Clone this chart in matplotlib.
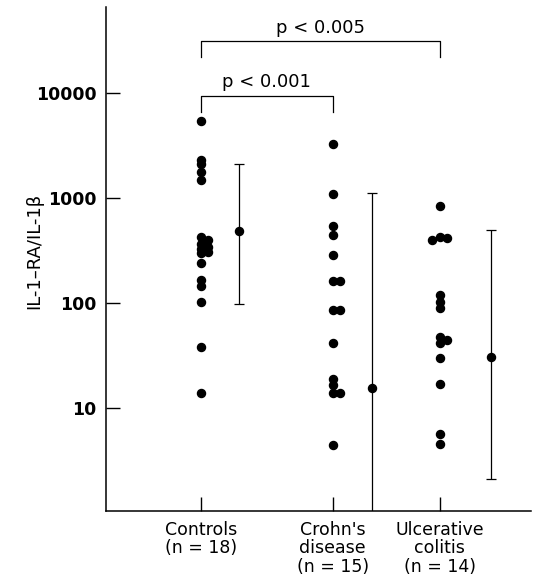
import numpy as np
import matplotlib
matplotlib.use("Agg")
import matplotlib.pyplot as plt
import matplotlib.transforms as mtransforms

# значения
controls = [5400, 2300, 2100, 1780, 1480, 430, 400, 370, 345, 330, 310, 300,
            240, 166, 146, 103, 38, 14]
crohns = [3300, 1090, 540, 450, 290, 162, 162, 86, 86, 42, 18.8, 16.6,
          13.8, 13.8, 4.4]
colitis = [840, 430, 415, 400, 119, 103, 89, 48, 45, 42, 30, 17, 5.6, 4.5]

means = [485, 15.6, 31]
upper = [2140, 1120, 496]
lower = [98, 0.3, 2.1]

labels = ["Controls\n(n = 18)", "Crohn's\ndisease\n(n = 15)",
          "Ulcerative\ncolitis\n(n = 14)"]
yticks = [10, 100, 1000, 10000]

group_x = [1.0, 2.0, 2.81]
mean_dx = [0.29, 0.30, 0.39]

plt.rcParams['font.family'] = ['DejaVu Sans']

fig = plt.figure(figsize=(5.33, 5.76), dpi=100)
ax = fig.add_axes([106 / 533, 1 - 511 / 576, 425 / 533, 504 / 576])
ax.set_yscale('log')
ax.set_xlim(0.283, 3.502)
ax.set_ylim(1.045, 66400)

px_x = 132.0   # пикселей на единицу x
px_y = 105.0   # пикселей на декаду


def swarm(values):
    # раздвигаем только почти совпадающие точки
    placed = []
    offs = []
    for v in values:
        ly = np.log10(v)
        for k in [0, 1, -1, 2, -2]:
            dx = k * 0.055
            ok = True
            for (px, py) in placed:
                d = np.hypot((dx - px) * px_x, (ly - py) * px_y)
                if d < 3.5:
                    ok = False
                    break
            if ok:
                break
        placed.append((dx, ly))
        offs.append(dx)
    return np.array(offs)


for i, grp in enumerate([controls, crohns, colitis]):
    xs = group_x[i] + swarm(grp)
    ax.plot(xs, grp, 'o', color='black', markersize=5.8, clip_on=False)
    mx = group_x[i] + mean_dx[i]
    ax.errorbar([mx], [means[i]],
                yerr=[[means[i] - lower[i]], [upper[i] - means[i]]],
                fmt='o', color='black', markersize=5.8, elinewidth=0.9,
                capsize=3.5, capthick=0.9)

# скобки значимости
trans = mtransforms.blended_transform_factory(ax.transData, ax.transAxes)
ax.plot([group_x[0], group_x[0], group_x[2], group_x[2]],
        [0.901, 0.9325, 0.9325, 0.901], color='black', lw=0.9,
        transform=trans, clip_on=False)
ax.text((group_x[0] + group_x[2]) / 2, 0.958, 'p < 0.005', transform=trans,
        ha='center', va='center', fontsize=13)
ax.plot([group_x[0], group_x[0], group_x[1], group_x[1]],
        [0.792, 0.8234, 0.8234, 0.792], color='black', lw=0.9,
        transform=trans, clip_on=False)
ax.text(1.5, 0.851, 'p < 0.001', transform=trans,
        ha='center', va='center', fontsize=13)

ax.spines['top'].set_visible(False)
ax.spines['right'].set_visible(False)
ax.spines['left'].set_linewidth(1.1)
ax.spines['bottom'].set_linewidth(1.1)

ax.set_yticks(yticks)
ax.set_yticklabels([str(t) for t in yticks], fontsize=12.5, fontweight='bold')
ax.yaxis.set_minor_locator(matplotlib.ticker.NullLocator())
ax.tick_params(axis='y', direction='in', length=10, width=1.0, pad=7)

ax.set_xticks(group_x)
ax.set_xticklabels(labels, fontsize=12.5, linespacing=1.05)
ax.tick_params(axis='x', direction='in', length=10, width=1.0, pad=7)

ax.set_ylabel('IL-1\u2013RA/IL-1\u03b2', fontsize=13)
ax.yaxis.set_label_coords(-0.148, 0.516)

fig.savefig('out.png', dpi=100)
